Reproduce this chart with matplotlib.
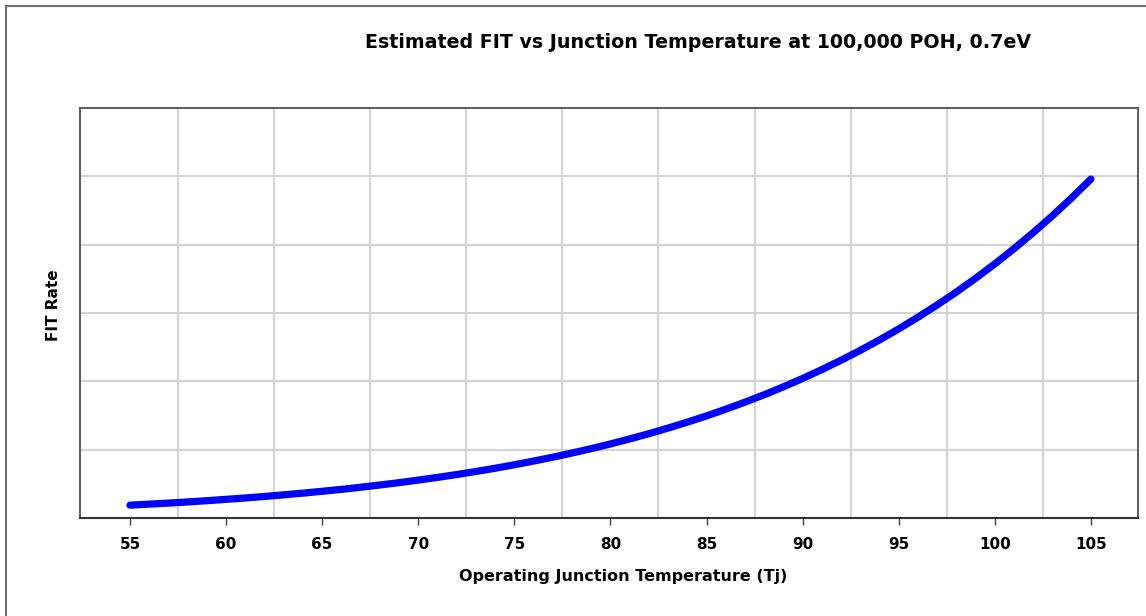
import matplotlib
matplotlib.use('Agg')
import matplotlib.pyplot as plt
from matplotlib.ticker import FixedLocator, NullFormatter

plt.rcParams['font.family'] = ['DejaVu Sans']

# valors llegits del grafic (unitats = linies de la graella)
temperatura = list(range(55, 106))
fit_rate = [0.188, 0.203, 0.218, 0.235, 0.253, 0.273, 0.293, 0.315, 0.339, 0.364,
            0.391, 0.419, 0.450, 0.483, 0.517, 0.555, 0.594, 0.636, 0.681, 0.728,
            0.779, 0.833, 0.890, 0.951, 1.015, 1.084, 1.157, 1.234, 1.316, 1.403,
            1.494, 1.592, 1.695, 1.804, 1.920, 2.042, 2.172, 2.309, 2.453, 2.606,
            2.767, 2.938, 3.118, 3.307, 3.508, 3.719, 3.942, 4.177, 4.424, 4.685,
            4.960]
etiquetes_x = [55, 60, 65, 70, 75, 80, 85, 90, 95, 100, 105]
graella_x = [57.5, 62.5, 67.5, 72.5, 77.5, 82.5, 87.5, 92.5, 97.5, 102.5]
graella_y = [1, 2, 3, 4, 5]

W, H = 1146, 616
fig = plt.figure(figsize=(W / 100, H / 100), dpi=100)
ax = fig.add_axes([80 / W, 1 - 518 / H, (1138 - 80) / W, (518 - 108) / H])

# marc exterior
fig.add_artist(plt.Line2D([6 / W, 6 / W], [0, 1 - 6 / H], color='#707070', lw=1.5))
fig.add_artist(plt.Line2D([6 / W, 1], [1 - 6 / H, 1 - 6 / H], color='#707070', lw=1.5))

linia, = ax.plot(temperatura, fit_rate, color='#0000ff', lw=5.2, solid_capstyle='round',
                 solid_joinstyle='round', zorder=3)
linia.set_snap(False)

ax.set_xlim(52.4, 107.45)
ax.set_ylim(0, 6)
ax.set_xticks(etiquetes_x)
ax.set_xticklabels([str(t) for t in etiquetes_x])
ax.xaxis.set_minor_locator(FixedLocator(graella_x))
ax.set_yticks(graella_y)
ax.yaxis.set_major_formatter(NullFormatter())
ax.tick_params(axis='x', which='major', length=5, width=1, color='#444444', pad=9, labelsize=11)
ax.tick_params(axis='x', which='minor', length=0)
ax.tick_params(axis='y', length=0)
for lab in ax.get_xticklabels():
    lab.set_fontweight('bold')
ax.grid(False)
for x in graella_x:
    ax.axvline(x, color='#d4d4d4', lw=1.5, zorder=1)
for y in graella_y:
    ax.axhline(y, color='#d4d4d4', lw=1.5, zorder=1)

for s in ax.spines.values():
    s.set_color('#606060')
    s.set_linewidth(1.5)
ax.spines['bottom'].set_color('#333333')

fig.text(698 / W, 1 - 43 / H, 'Estimated FIT vs Junction Temperature at 100,000 POH, 0.7eV',
         ha='center', va='center', fontsize=13.7, fontweight='bold')
fig.text(623 / W, 1 - 577 / H, 'Operating Junction Temperature (Tj)',
         ha='center', va='center', fontsize=11.5, fontweight='bold')
fig.text(53 / W, 1 - 305 / H, 'FIT Rate', ha='center', va='center',
         rotation=90, fontsize=11, fontweight='bold')

plt.savefig('out.png', dpi=100)
plt.close(fig)
